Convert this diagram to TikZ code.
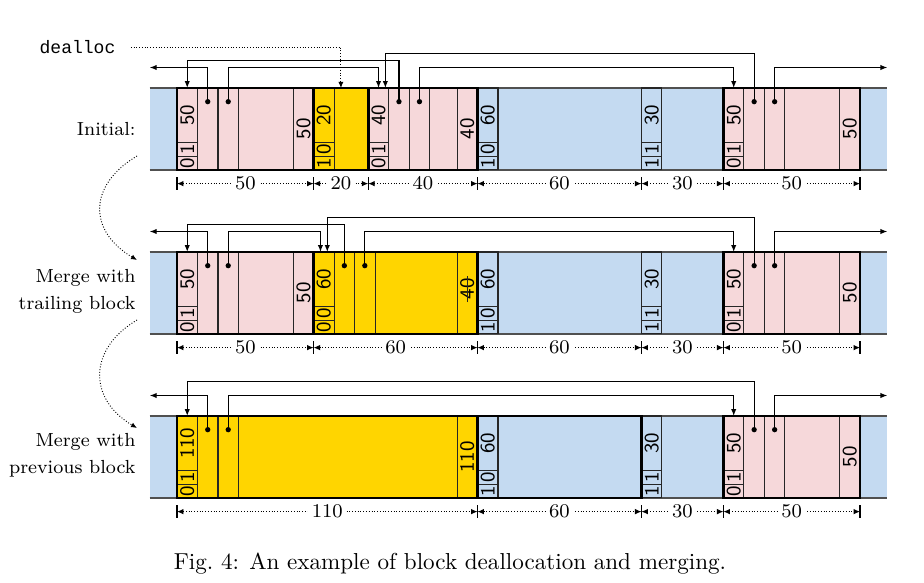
\documentclass[tikz,border=0pt]{standalone}
\usepackage{fontspec}
\setmonofont{Liberation Mono}
\usetikzlibrary{arrows.meta}
\definecolor{stripblue}{RGB}{196,218,241}
\definecolor{freepink}{RGB}{246,216,218}
\definecolor{deayellow}{RGB}{255,213,0}
\definecolor{stripedge}{RGB}{80,80,80}
\tikzset{
 thinl/.style={draw=black!85,line width=0.45pt},
 thickl/.style={draw=black,line width=1.1pt},
 stripl/.style={draw=stripedge,line width=0.7pt},
 celltxt/.style={rotate=90,inner sep=1pt,font=\fontsize{8.8}{9.5}\selectfont\sffamily},
 dot/.style={circle,fill=black,inner sep=0pt,minimum size=2.3pt},
 ptr/.style={line width=0.5pt,-{Latex[length=3pt,width=2.3pt]}},
 dimline/.style={line width=0.4pt,dash pattern=on 0.4pt off 0.8pt,>={Latex[length=2.8pt,width=2.4pt]},<->},
 dimtick/.style={line width=0.5pt},
 dimlabel/.style={fill=white,inner xsep=1.5pt,inner ysep=0.5pt,font=\fontsize{8.4}{9}\selectfont},
 sidelabel/.style={anchor=east,align=right,inner sep=0pt,font=\fontsize{8.2}{11.7}\selectfont},
 dotarrow/.style={line width=0.4pt,dash pattern=on 0.4pt off 0.8pt,-{Latex[length=2.6pt,width=2.2pt]}},
}
% header cell: id, x, size, top bit, bottom bit
\newcommand\hdrcell[5]{%
  \draw[thinl] (#2,0) rectangle ({#2+7.5},30);
  \draw[thinl] (#2,20) -- ({#2+7.5},20) (#2,25) -- ({#2+7.5},25);
  \node[celltxt] (#1-sz) at ({#2+3.75},10) {#3};
  \node[celltxt] (#1-bt) at ({#2+3.75},22.5) {#4};
  \node[celltxt] (#1-bb) at ({#2+3.75},27.5) {#5};
  \coordinate (#1-in) at ({#2+3.75},0);
}
% pointer cells: id, x
\newcommand\ptrcells[2]{%
  \draw[thinl] ({#2+15},0) -- ({#2+15},30) ({#2+22.5},0) -- ({#2+22.5},30);
  \node[dot] (#1-p) at ({#2+11.25},5) {};
  \node[dot] (#1-n) at ({#2+18.75},5) {};
}
% footer: id, end x, text
\newcommand\ftr[3]{%
  \draw[thinl] ({#2-7.5},0) -- ({#2-7.5},30);
  \node[celltxt] (#1-ft) at ({#2-3.75},15) {#3};
}
\newcommand\dimseg[4]{%
  \draw[dimline] (#2,35) -- node[dimlabel] (#1) {#4} (#3,35);
}
\newcommand\stripbg{%
  \fill[stripblue] (-10,0) rectangle (260,30);
  \draw[stripl] (-10,0) -- (260,0) (-10,30) -- (260,30);
}
\begin{document}
\begin{tikzpicture}[x=0.4329pt,y=-0.4329pt]
\useasboundingbox (0,0) rectangle (924,582);

% ---------------- Row 1 ----------------
\begin{scope}[shift={(177,88)},scale=2.732]
 \stripbg
 \fill[freepink] (0,0) rectangle (50,30);
 \fill[deayellow] (50,0) rectangle (70,30);
 \fill[freepink] (70,0) rectangle (110,30);
 \fill[freepink] (200,0) rectangle (250,30);
 \hdrcell{a-A}{0}{50}{1}{0}
 \ptrcells{a-A}{0}
 \ftr{a-A}{50}{50}
 \hdrcell{a-B}{50}{20}{0}{1}
 \hdrcell{a-C}{70}{40}{1}{0}
 \ptrcells{a-C}{70}
 \ftr{a-C}{110}{40}
 \hdrcell{a-D}{110}{60}{0}{1}
 \hdrcell{a-E}{170}{30}{1}{1}
 \hdrcell{a-F}{200}{50}{1}{0}
 \ptrcells{a-F}{200}
 \ftr{a-F}{250}{50}
 \draw[thickl] (0,0) rectangle (50,30) (50,0) rectangle (70,30) (70,0) rectangle (110,30) (200,0) rectangle (250,30);
 \coordinate (a-lv1) at (0,-7.5);
 \coordinate (a-lv2) at (0,-10);
 \coordinate (a-lv3) at (0,-12.5);
 \coordinate (a-left) at (-10,-7.5);
 \coordinate (a-right) at (260,-7.5);
 \coordinate (a-C-in2) at (76.25,0);
 \coordinate (a-B-hit) at (60,0);
 \draw[ptr] (a-A-p.center) |- (a-left);
 \draw[ptr] (a-A-n.center) -- (a-A-n.center |- a-lv1) -| (a-C-in);
 \draw[ptr] (a-C-p.center) -- (a-C-p.center |- a-lv2) -| (a-A-in);
 \draw[ptr] (a-C-n.center) -- (a-C-n.center |- a-lv1) -| (a-F-in);
 \draw[ptr] (a-F-p.center) -- (a-F-p.center |- a-lv3) -| (a-C-in2);
 \draw[ptr] (a-F-n.center) |- (a-right);
 \foreach \t in {0,50,70,110,170,200,250} {\draw[dimtick] (\t,32.6) -- (\t,37.4);}
 \dimseg{a-d1}{0}{50}{50}
 \dimseg{a-d2}{50}{70}{20}
 \dimseg{a-d3}{70}{110}{40}
 \dimseg{a-d4}{110}{170}{60}
 \dimseg{a-d5}{170}{200}{30}
 \dimseg{a-d6}{200}{250}{50}
\end{scope}

% ---------------- Row 2 ----------------
\begin{scope}[shift={(177,252)},scale=2.732]
 \stripbg
 \fill[freepink] (0,0) rectangle (50,30);
 \fill[deayellow] (50,0) rectangle (110,30);
 \fill[freepink] (200,0) rectangle (250,30);
 \hdrcell{b-A}{0}{50}{1}{0}
 \ptrcells{b-A}{0}
 \ftr{b-A}{50}{50}
 \hdrcell{b-B}{50}{60}{0}{0}
 \ptrcells{b-B}{50}
 \draw[thinl] (102.5,0) -- (102.5,30);
 \node[celltxt] (b-B-ft) at (106.25,13.5) {40};
 \draw[thinl] (b-B-ft.west) -- (b-B-ft.east);
 \hdrcell{b-D}{110}{60}{0}{1}
 \hdrcell{b-E}{170}{30}{1}{1}
 \hdrcell{b-F}{200}{50}{1}{0}
 \ptrcells{b-F}{200}
 \ftr{b-F}{250}{50}
 \draw[thickl] (0,0) rectangle (50,30) (50,0) rectangle (110,30) (200,0) rectangle (250,30);
 \coordinate (b-lv1) at (0,-7.5);
 \coordinate (b-lv2) at (0,-10);
 \coordinate (b-lv3) at (0,-12.5);
 \coordinate (b-left) at (-10,-7.5);
 \coordinate (b-right) at (260,-7.5);
 \coordinate (b-B-inA) at (52.5,0);
 \coordinate (b-B-inB) at (55,0);
 \draw[ptr] (b-A-p.center) |- (b-left);
 \draw[ptr] (b-A-n.center) -- (b-A-n.center |- b-lv1) -| (b-B-inA);
 \draw[ptr] (b-B-p.center) -- (b-B-p.center |- b-lv2) -| (b-A-in);
 \draw[ptr] (b-B-n.center) -- (b-B-n.center |- b-lv1) -| (b-F-in);
 \draw[ptr] (b-F-p.center) -- (b-F-p.center |- b-lv3) -| (b-B-inB);
 \draw[ptr] (b-F-n.center) |- (b-right);
 \foreach \t in {0,50,110,170,200,250} {\draw[dimtick] (\t,32.6) -- (\t,37.4);}
 \dimseg{b-d1}{0}{50}{50}
 \dimseg{b-d2}{50}{110}{60}
 \dimseg{b-d3}{110}{170}{60}
 \dimseg{b-d4}{170}{200}{30}
 \dimseg{b-d5}{200}{250}{50}
\end{scope}

% ---------------- Row 3 ----------------
\begin{scope}[shift={(177,416)},scale=2.732]
 \stripbg
 \fill[deayellow] (0,0) rectangle (110,30);
 \fill[freepink] (200,0) rectangle (250,30);
 \hdrcell{c-A}{0}{110}{1}{0}
 \ptrcells{c-A}{0}
 \ftr{c-A}{110}{110}
 \hdrcell{c-D}{110}{60}{0}{1}
 \hdrcell{c-E}{170}{30}{1}{1}
 \hdrcell{c-F}{200}{50}{1}{0}
 \ptrcells{c-F}{200}
 \ftr{c-F}{250}{50}
 \draw[thickl] (0,0) rectangle (110,30) (110,0) rectangle (170,30) (200,0) rectangle (250,30);
 \coordinate (c-lv1) at (0,-7.5);
 \coordinate (c-lv3) at (0,-12.5);
 \coordinate (c-left) at (-10,-7.5);
 \coordinate (c-right) at (260,-7.5);
 \draw[ptr] (c-A-p.center) |- (c-left);
 \draw[ptr] (c-A-n.center) -- (c-A-n.center |- c-lv1) -| (c-F-in);
 \draw[ptr] (c-F-p.center) -- (c-F-p.center |- c-lv3) -| (c-A-in);
 \draw[ptr] (c-F-n.center) |- (c-right);
 \foreach \t in {0,110,170,200,250} {\draw[dimtick] (\t,32.6) -- (\t,37.4);}
 \dimseg{c-d1}{0}{110}{110}
 \dimseg{c-d2}{110}{170}{60}
 \dimseg{c-d3}{170}{200}{30}
 \dimseg{c-d4}{200}{250}{50}
\end{scope}

% ---------------- Labels ----------------
\node[font=\fontsize{7.8}{9}\selectfont\ttfamily,inner xsep=6.5pt,inner ysep=1pt] (dealloc) at (77.5,47) {dealloc};
\draw[dotarrow] (dealloc.east) -| (a-B-hit);

\node[sidelabel] (lab1) at (136,129) {Initial:};
\node[sidelabel] (lab2) at (136,291) {Merge with\\trailing block};
\node[sidelabel] (lab3) at (136,455.5) {Merge with\\previous block};
\coordinate (c1s) at (137,156);
\coordinate (c1e) at (137,260);
\coordinate (c2s) at (137,320);
\coordinate (c2e) at (137,428);
\draw[dotarrow] (c1s) .. controls (88,185) and (88,231) .. (c1e);
\draw[dotarrow] (c2s) .. controls (88,349) and (88,399) .. (c2e);

\node[font=\fontsize{10}{12}\selectfont,anchor=base] (cap) at (450,569) {Fig.~4: An example of block deallocation and merging.};
\end{tikzpicture}
\end{document}
